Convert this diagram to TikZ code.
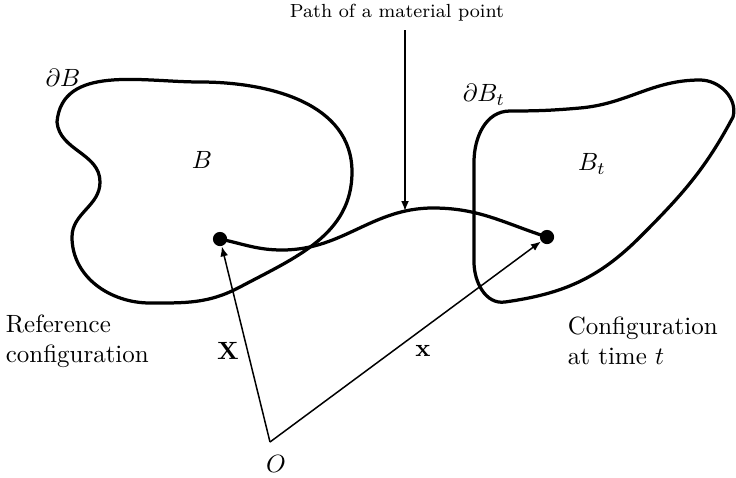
\documentclass[tikz,border=0pt]{standalone}
\usepackage{amsmath,amssymb}
\usepackage{tikz}
\usetikzlibrary{positioning,arrows.meta,calc}
\tikzset{
boundary/.style={
line width=1.3pt
},
dot/.style={
circle,
fill=black,
inner sep=0pt,
minimum size=2mm
},
vec/.style={
-{Latex[length=1.4mm,width=1.1mm]},
line width=0.6pt
},
lbl/.style={
align=left,
font=\normalsize
}
}

\begin{document}
\begin{tikzpicture}[x=0.1408mm,y=0.1408mm]
\useasboundingbox (0,0) rectangle (736,477);

% bodies
\draw[boundary] (57,355) to[out=85,in=180] (200,395) to[out=0,in=90] (352,305)
  to[out=-90,in=28] (240,190) to[out=208,in=0] (150,174)
  to[out=180,in=-90] (72,240) to[out=90,in=-90] (100,295)
  to[out=90,in=-85] cycle;
\draw[boundary] (474,315) to[out=90,in=180] (510,366) to[out=0,in=185] (580,369)
  to[out=5,in=180] (700,397) to[out=0,in=75] (733,360)
  to[out=242,in=45] (640,240) to[out=225,in=8] (505,175)
  to[out=188,in=-90] (474,215) to[out=90,in=-90] cycle;

% material point
\node[dot](P) at (220,238){};
\node[dot](p) at (547,240){};
\coordinate(O) at (270,35);
\coordinate(hit) at (405,266);
\draw[boundary] (P.center) to[out=-12,in=180] (282,227) to[out=0,in=180] (433,269)
  to[out=0,in=162] (p.center);

% labels
\node[lbl](dB) at (63,399){$\partial B$};
\node[lbl](B) at (202,317){$B$};
\node[lbl](dBt) at (484,382){$\partial B_t$};
\node[lbl](Bt) at (592,313){$B_t$};
\node[lbl,anchor=west](ref) at (-3,136){Reference\\configuration};
\node[lbl,anchor=west](cur) at (559,136){Configuration\\at time $t$};
\node[font=\fontsize{7.6}{9}\selectfont](path) at (397,464){Path of a material point};
\node(o) at (276,13){$O$};
\node(Xl) at (228,126){$\mathbf{X}$};
\node(xl) at (423,126){$\mathbf{x}$};

\draw[vec](O)--(P);
\draw[vec](O)--(p);
\draw[vec](hit |- path.south)--(hit);
\end{tikzpicture}
\end{document}
